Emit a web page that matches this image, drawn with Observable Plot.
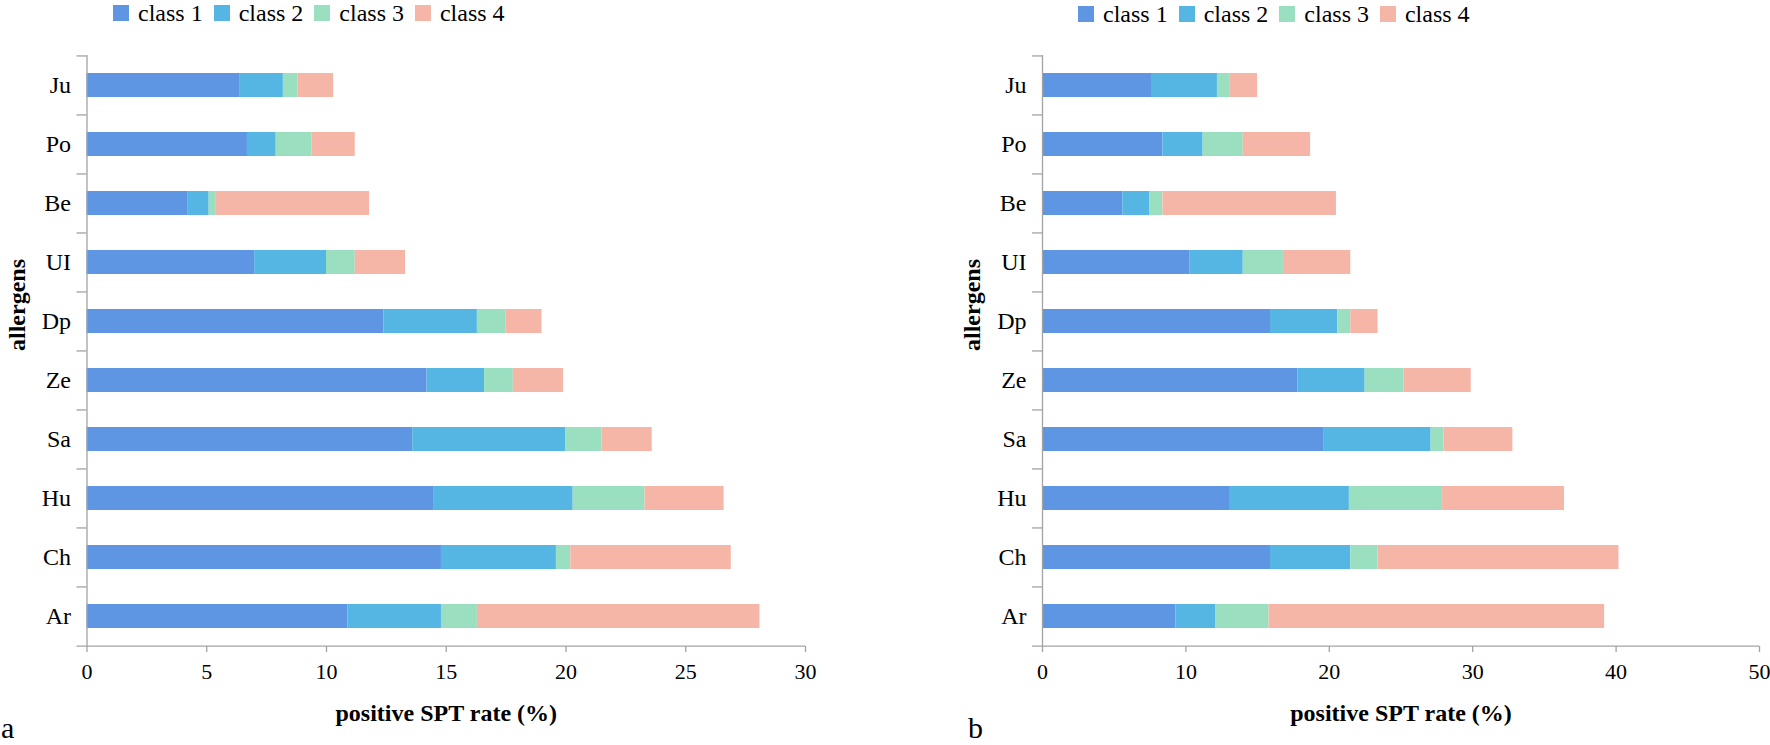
<!DOCTYPE html>
<html>
<head>
<meta charset="utf-8">
<script src="https://cdn.jsdelivr.net/npm/d3@7"></script>
<script src="https://cdn.jsdelivr.net/npm/@observablehq/plot@0.6"></script>
<style>
  html, body { margin: 0; padding: 0; background: #fff; }
  #root { position: relative; width: 1770px; height: 745px; overflow: hidden; background: #fff;
          font-family: "Liberation Serif", "Times New Roman", serif; color: #000; }
  .panel { position: absolute; top: 0; }
  .legend { position: absolute; display: flex; align-items: baseline; font-size: 24px; line-height: 24px; white-space: nowrap; }
  .legend .sw { display: inline-block; width: 16px; height: 16px; margin-right: 9px; }
  .legend .it { margin-right: 11px; }
  .plabel { position: absolute; font-size: 30px; line-height: 24px; }
</style>
</head>
<body>
<div id="root">
  <div class="panel" id="pa" style="left:0px"></div>
  <div class="panel" id="pb" style="left:885px"></div>
  <div class="legend" id="la" style="left:113px; top:1px"></div>
  <div class="legend" id="lb" style="left:1078px; top:2px"></div>
  <div class="plabel" style="left:1px; top:716px">a</div>
  <div class="plabel" style="left:968px; top:716px">b</div>
</div>
<script>
// ---- data (bottom to top order) ----
const allergens = ["Ar", "Ch", "Hu", "Sa", "Ze", "Dp", "UI", "Be", "Po", "Ju"];
const classes = ["class 1", "class 2", "class 3", "class 4"];
const classColors = ["#5E96E4", "#55B5E3", "#9ADFC0", "#F6B6A7"];

// panel a: segment widths (positive SPT rate %) per class
const a1 = [10.9, 14.8, 14.5, 13.6, 14.2, 12.4, 7.0, 4.2, 6.7, 6.4];
const a2 = [ 3.9,  4.8,  5.8,  6.4,  2.4,  3.9, 3.0, 0.9, 1.2, 1.8];
const a3 = [ 1.5,  0.6,  3.0,  1.5,  1.2,  1.2, 1.2, 0.3, 1.5, 0.6];
const a4 = [11.8,  6.7,  3.3,  2.1,  2.1,  1.5, 2.1, 6.4, 1.8, 1.5];
// panel b
const b1 = [ 9.3, 15.9, 13.1, 19.6, 17.8, 15.9, 10.3,  5.6, 8.4, 7.6];
const b2 = [ 2.8,  5.6,  8.3,  7.5,  4.7,  4.7,  3.7,  1.9, 2.8, 4.6];
const b3 = [ 3.7,  1.9,  6.5,  0.9,  2.7,  0.9,  2.8,  0.9, 2.8, 0.9];
const b4 = [23.4, 16.8,  8.5,  4.8,  4.7,  1.9,  4.7, 12.1, 4.7, 1.9];

const xTicksA = [0, 5, 10, 15, 20, 25, 30];
const xTicksB = [0, 10, 20, 30, 40, 50];
const xTitle = "positive SPT rate (%)";
const yTitle = "allergens";

function tidy(series) {
  const rows = [];
  allergens.forEach((a, i) => {
    series.forEach((s, k) => rows.push({allergen: a, cls: classes[k], value: s[i]}));
  });
  return rows;
}

const FONT = "'Liberation Serif', 'Times New Roman', serif";
const AXIS = "#A3A3A3";
const W = 885, H = 745, MT = 55, MB = 99;
const topDown = allergens.slice().reverse();
const step = (H - MT - MB) / allergens.length;

function panel(rows, xmax, xticks, ml, mr) {
  const frameW = W - ml - mr;
  return Plot.plot({
    width: W, height: H,
    marginLeft: ml, marginRight: mr, marginTop: MT, marginBottom: MB,
    style: {fontFamily: FONT, background: "transparent", overflow: "visible"},
    x: {domain: [0, xmax], axis: null},
    y: {domain: topDown, axis: null, paddingInner: 0.6, paddingOuter: 0.3},
    color: {domain: classes, range: classColors},
    marks: [
      Plot.barX(rows, {y: "allergen", x: "value", fill: "cls", order: null}),
      // y axis line
      Plot.ruleX([0], {stroke: AXIS, strokeWidth: 1.3}),
      // category boundary ticks (left of the axis)
      Plot.tickY(topDown, {y: d => d, dy: -step / 2, stroke: AXIS, strokeWidth: 1.3, insetLeft: -10, insetRight: frameW}),
      // x baseline (extends slightly left)
      Plot.tickY([allergens[0]], {y: d => d, dy: step / 2, stroke: AXIS, strokeWidth: 1.3, insetLeft: -10}),
      // x ticks (downward)
      Plot.tickX(xticks, {x: d => d, stroke: AXIS, strokeWidth: 1.3, insetTop: H - MT - MB, insetBottom: -6}),
      // x tick labels
      Plot.text(xticks, {x: d => d, text: d => String(d), frameAnchor: "bottom", dy: 32, fontSize: 22, fontFamily: FONT, fill: "#000"}),
      // y tick labels
      Plot.text(topDown, {y: d => d, text: d => d, frameAnchor: "left", dx: -16, textAnchor: "end", fontSize: 24, fontFamily: FONT, fill: "#000"}),
      // axis titles
      Plot.text([xTitle], {text: d => d, frameAnchor: "bottom", dy: 74, fontSize: 24, fontWeight: "bold", fontFamily: FONT, fill: "#000"}),
      Plot.text([yTitle], {text: d => d, frameAnchor: "left", dx: -70, rotate: -90, fontSize: 24, fontWeight: "bold", fontFamily: FONT, fill: "#000"})
    ]
  });
}

document.getElementById("pa").appendChild(panel(tidy([a1, a2, a3, a4]), 30, xTicksA, 86.5, 80));
document.getElementById("pb").appendChild(panel(tidy([b1, b2, b3, b4]), 50, xTicksB, 157, 11));

function legend(id) {
  const el = document.getElementById(id);
  classes.forEach((c, k) => {
    const sw = document.createElement("span");
    sw.className = "sw";
    sw.style.background = classColors[k];
    const t = document.createElement("span");
    t.className = "it";
    t.textContent = c;
    el.appendChild(sw);
    el.appendChild(t);
  });
}
legend("la");
legend("lb");
</script>
</body>
</html>
